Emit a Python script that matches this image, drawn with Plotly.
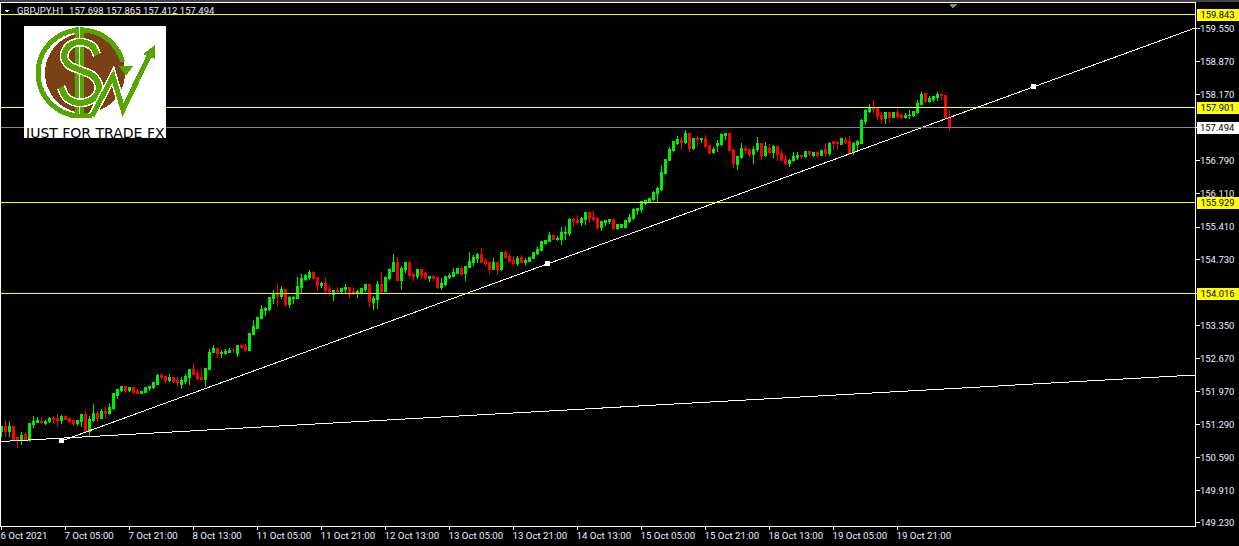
import math
import plotly.graph_objects as go

opens = [151.14,151.24,151.13,151.24,151.01,150.96,151.07,150.96,151.28,151.32,
151.35,151.30,151.34,151.42,151.42,151.38,151.45,151.42,151.36,151.30,
151.34,151.49,151.14,151.38,151.51,151.42,151.55,151.51,151.63,151.90,
151.99,152.07,151.99,152.05,151.97,151.93,151.95,152.03,152.05,152.13,
152.30,152.28,152.20,152.26,152.20,152.13,152.18,152.26,152.43,152.36,
152.26,152.22,152.43,152.78,152.87,152.76,152.76,152.80,152.84,152.76,
152.93,152.91,152.84,153.16,153.30,153.51,153.66,153.68,153.91,154.01,
153.95,154.10,153.80,153.91,153.91,154.14,154.31,154.35,154.47,154.35,
154.18,154.24,154.10,154.01,154.08,154.06,154.10,154.14,154.06,154.03,
154.03,154.10,154.20,153.83,153.89,154.22,154.06,154.33,154.49,154.68,
154.29,154.52,154.66,154.41,154.37,154.52,154.43,154.33,154.37,154.35,
154.14,154.22,154.35,154.37,154.45,154.54,154.43,154.56,154.68,154.75,
154.83,154.70,154.66,154.52,154.68,154.52,154.87,154.79,154.72,154.64,
154.77,154.68,154.70,154.75,154.85,154.93,155.06,155.10,155.23,155.14,
155.16,155.27,155.27,155.56,155.54,155.50,155.56,155.71,155.62,155.58,
155.41,155.50,155.52,155.56,155.39,155.41,155.41,155.52,155.58,155.75,
155.77,155.91,155.94,155.98,156.12,156.19,156.52,156.81,157.00,157.15,
157.21,157.17,157.36,157.06,157.25,157.23,157.25,157.11,156.96,157.11,
157.13,157.32,157.36,157.04,156.71,156.86,157.06,157.02,156.92,157.02,
157.15,156.90,157.06,156.96,157.09,156.94,156.83,156.73,156.79,156.86,
156.90,156.88,156.98,156.90,156.96,156.90,157.02,156.94,157.19,157.17,
157.13,157.23,157.19,156.96,157.13,157.15,157.61,157.82,157.90,157.88,
157.73,157.67,157.80,157.69,157.80,157.73,157.69,157.73,157.73,157.80,
157.98,158.19,158.03,158.07,158.11,158.17,158.15,157.698]

highs = [151.24,151.38,151.36,151.24,151.01,151.13,151.13,151.30,151.47,151.45,
151.44,151.38,151.45,151.47,151.51,151.49,151.49,151.42,151.40,151.38,
151.51,151.57,151.47,151.72,151.57,151.61,151.65,151.74,151.93,152.03,
152.09,152.07,152.05,152.07,152.03,151.99,152.05,152.09,152.18,152.34,
152.36,152.28,152.34,152.28,152.28,152.28,152.34,152.43,152.57,152.43,
152.45,152.45,152.87,152.95,152.87,152.84,152.87,152.89,152.89,152.95,
152.97,152.97,153.18,153.47,153.53,153.78,153.74,153.95,154.10,154.22,
154.18,154.10,153.97,153.97,154.37,154.43,154.43,154.52,154.49,154.37,
154.26,154.35,154.18,154.08,154.16,154.14,154.22,154.16,154.16,154.10,
154.14,154.20,154.20,153.97,154.29,154.47,154.37,154.54,154.85,154.79,
154.60,154.68,154.70,154.45,154.54,154.54,154.47,154.37,154.41,154.35,
154.35,154.39,154.45,154.56,154.54,154.58,154.60,154.89,154.83,154.87,
154.98,154.77,154.66,154.77,154.68,154.87,154.93,154.87,154.81,154.81,
154.83,154.77,154.79,154.89,155.00,155.10,155.14,155.31,155.23,155.23,
155.41,155.43,155.60,155.60,155.66,155.62,155.73,155.73,155.77,155.60,
155.54,155.56,155.58,155.56,155.48,155.48,155.56,155.69,155.81,155.81,
155.96,155.98,156.02,156.17,156.25,156.71,156.83,157.09,157.19,157.32,
157.29,157.44,157.38,157.27,157.32,157.27,157.34,157.13,157.09,157.23,
157.38,157.38,157.36,157.04,156.88,157.17,157.11,157.04,157.11,157.29,
157.15,157.19,157.15,157.13,157.11,157.02,156.92,156.83,156.98,156.98,
156.92,157.00,156.98,156.98,156.96,157.00,157.17,157.19,157.19,157.21,
157.27,157.29,157.31,157.19,157.23,157.67,157.88,157.98,158.07,157.90,
157.82,157.80,157.80,157.80,157.88,157.77,157.80,157.86,157.82,158.07,
158.23,158.19,158.15,158.15,158.23,158.21,158.17,157.865]

lows = [151.02,151.02,151.02,150.98,150.80,150.86,150.96,150.93,151.21,151.32,
151.30,151.28,151.32,151.32,151.24,151.30,151.38,151.32,151.26,151.26,
151.24,151.13,151.05,151.34,151.34,151.40,151.40,151.49,151.59,151.82,
151.97,151.95,151.97,151.93,151.93,151.93,151.94,151.99,152.03,152.13,
152.22,152.16,152.18,152.16,152.07,152.03,152.13,152.11,152.34,152.22,
152.20,152.07,152.43,152.78,152.68,152.68,152.74,152.78,152.78,152.70,
152.87,152.82,152.84,153.16,153.30,153.49,153.55,153.66,153.80,153.76,
153.91,153.74,153.72,153.80,153.91,154.03,154.29,154.31,154.31,154.08,
154.14,154.03,153.97,153.87,154.01,154.03,154.03,153.93,153.99,153.93,
154.01,154.06,153.74,153.68,153.70,154.03,154.06,154.31,154.47,154.29,
154.10,154.45,154.37,154.29,154.33,154.33,154.31,154.26,154.29,154.12,
154.10,154.18,154.33,154.37,154.43,154.39,154.29,154.56,154.60,154.66,
154.66,154.60,154.43,154.52,154.41,154.49,154.75,154.68,154.62,154.60,
154.66,154.60,154.68,154.75,154.83,154.93,155.04,155.10,155.14,155.12,
155.04,155.14,155.23,155.41,155.46,155.43,155.46,155.50,155.54,155.35,
155.33,155.43,155.48,155.35,155.35,155.39,155.39,155.50,155.56,155.66,
155.71,155.87,155.94,155.96,155.94,156.17,156.52,156.79,156.98,157.13,
157.02,157.15,156.98,157.02,157.09,157.17,157.06,156.94,156.94,156.98,
157.11,157.23,157.00,156.65,156.60,156.83,156.94,156.88,156.73,156.98,
156.81,156.88,156.94,156.86,156.79,156.79,156.71,156.67,156.77,156.81,
156.83,156.86,156.90,156.88,156.86,156.90,156.88,156.90,157.02,157.02,
157.13,157.15,156.94,156.92,157.02,157.15,157.54,157.80,157.77,157.65,
157.57,157.57,157.61,157.69,157.67,157.67,157.67,157.67,157.71,157.77,
157.96,158.00,158.00,158.03,158.05,158.07,157.69,157.412]

closes = [151.24,151.13,151.24,150.98,150.96,151.05,150.96,151.30,151.34,151.36,
151.33,151.35,151.42,151.40,151.38,151.45,151.40,151.34,151.30,151.36,
151.49,151.14,151.40,151.51,151.42,151.55,151.51,151.65,151.93,152.01,
152.07,151.99,152.05,151.95,151.93,151.97,152.05,152.07,152.16,152.30,
152.26,152.20,152.26,152.18,152.16,152.20,152.28,152.43,152.34,152.24,
152.22,152.45,152.80,152.87,152.76,152.78,152.82,152.84,152.83,152.93,
152.89,152.84,153.18,153.33,153.53,153.68,153.70,153.93,154.01,153.95,
154.10,153.80,153.93,153.93,154.16,154.33,154.39,154.47,154.33,154.18,
154.24,154.08,154.06,154.08,154.06,154.12,154.14,154.01,154.03,154.06,
154.12,154.20,153.85,153.91,154.22,154.06,154.35,154.52,154.68,154.29,
154.54,154.66,154.39,154.37,154.52,154.39,154.35,154.37,154.33,154.14,
154.24,154.37,154.39,154.47,154.54,154.41,154.58,154.70,154.77,154.83,
154.68,154.64,154.52,154.68,154.52,154.87,154.77,154.70,154.64,154.75,
154.68,154.72,154.77,154.87,154.95,155.10,155.12,155.23,155.14,155.18,
155.29,155.29,155.56,155.52,155.50,155.58,155.71,155.58,155.56,155.41,
155.52,155.54,155.56,155.39,155.46,155.46,155.54,155.60,155.77,155.79,
155.94,155.96,156.00,156.14,156.21,156.54,156.83,157.02,157.19,157.23,
157.17,157.36,157.06,157.25,157.23,157.25,157.09,156.94,157.04,157.15,
157.34,157.36,157.00,156.73,156.88,157.06,157.00,156.92,157.04,157.15,
156.90,157.09,156.96,157.09,156.92,156.81,156.73,156.81,156.88,156.90,
156.88,156.98,156.94,156.96,156.90,157.00,156.94,157.15,157.15,157.15,
157.25,157.17,156.94,157.15,157.19,157.63,157.84,157.90,157.86,157.71,
157.67,157.80,157.69,157.80,157.71,157.69,157.75,157.75,157.82,158.00,
158.17,158.03,158.09,158.13,158.17,158.15,157.69,157.494]

bars = list(range(len(opens)))

x_tick_bars = [0,16,32,48,64,80,96,112,128,144,160,176,192,208,224]
x_tick_labels = ["6 Oct 2021","7 Oct 05:00","7 Oct 21:00","8 Oct 13:00","11 Oct 05:00",
                 "11 Oct 21:00","12 Oct 13:00","13 Oct 05:00","13 Oct 21:00","14 Oct 13:00",
                 "15 Oct 05:00","15 Oct 21:00","18 Oct 13:00","19 Oct 05:00","19 Oct 21:00"]
y_ticks = [159.55,158.87,158.17,157.49,156.79,156.11,155.41,154.73,154.03,153.35,
           152.67,151.97,151.29,150.59,149.91,149.23]

level_prices = [159.843,157.901,155.929,154.016]
last_price = 157.494

rising_bars = [15,136.5,258,298.4]
rising_prices = [150.943,154.641,158.338,159.567]
anchor_bars = [15,136.5,258]
anchor_prices = [150.943,154.641,158.338]
flat_bars = [-0.375,298.4]
flat_prices = [150.93,152.32]

BG="#000000"; UP="#00f000"; DOWN="#ff0000"; YEL="#ffff00"; GRAY="#778899"
TXT="#e6efff"
FONT="Roboto, Noto Sans, sans-serif"

W,H=1239,546
L,R,T,B=1,44,3,20
PW=W-L-R; PH=H-T-B
def px(x): return (x-L)/PW
def py(y): return (H-B-y)/PH

fig=go.Figure()
fig.add_trace(go.Candlestick(x=bars,open=opens,high=highs,low=lows,close=closes,
    increasing=dict(line=dict(color=UP,width=1),fillcolor=UP),
    decreasing=dict(line=dict(color=DOWN,width=1),fillcolor=DOWN),
    whiskerwidth=0,showlegend=False,name="GBPJPY,H1"))
fig.add_trace(go.Scatter(x=flat_bars,y=flat_prices,mode="lines",line=dict(color="#ffffff",width=1),showlegend=False))
fig.add_trace(go.Scatter(x=rising_bars,y=rising_prices,mode="lines",line=dict(color="#ffffff",width=1),showlegend=False))
fig.add_trace(go.Scatter(x=anchor_bars,y=anchor_prices,mode="markers",
    marker=dict(symbol="square",size=5,color="#ffffff",line=dict(width=0)),showlegend=False))

shapes=[]
for p in level_prices:
    shapes.append(dict(type="line",xref="paper",yref="y",x0=0,x1=1,y0=p,y1=p,line=dict(color=YEL,width=1),layer="above"))
shapes.append(dict(type="line",xref="paper",yref="y",x0=0,x1=1,y0=last_price,y1=last_price,line=dict(color=GRAY,width=1),layer="above"))

def pth(points,close=False):
    s="M"+" L".join(f"{px(a):.5f},{py(b):.5f}" for a,b in points)
    return s+(" Z" if close else "")
def shape_path(points,fill=None,line=None,width=0,close=False):
    d=dict(type="path",xref="paper",yref="paper",path=pth(points,close),layer="above")
    d["fillcolor"]=fill if fill else "rgba(0,0,0,0)"
    d["line"]=dict(color=line if line else "rgba(0,0,0,0)",width=width)
    return d
def arc(cx,cy,rx,ry,a0,a1,n=60):
    return [(cx+rx*math.cos(math.radians(a0+(a1-a0)*k/n)),cy-ry*math.sin(math.radians(a0+(a1-a0)*k/n))) for k in range(n+1)]
def smooth(pts,n=8):
    out=[]
    P=[pts[0]]+pts+[pts[-1]]
    for i in range(1,len(P)-2):
        for k in range(n):
            t=k/n
            out.append(tuple(0.5*(2*P[i][c]+(P[i+1][c]-P[i-1][c])*t+(2*P[i-1][c]-5*P[i][c]+4*P[i+1][c]-P[i+2][c])*t*t+(3*P[i][c]-P[i-1][c]-3*P[i+1][c]+P[i+2][c])*t*t*t) for c in (0,1)))
    out.append(pts[-1])
    return out

LG="#55a600"; BR="#7b4016"; WH="#ffffff"
# window decoration
shapes.append(shape_path([(0,0),(1239,0),(1239,2.5),(0,2.5)],fill="#444444",close=True))
shapes.append(shape_path([(4,10),(10,10),(7,13)],fill="#ffffff",close=True))
shapes.append(shape_path([(949,4),(958,4),(953.5,8.5)],fill=GRAY,close=True))
# logo
shapes.append(shape_path([(24,26),(166,26),(166,138),(24,138)],fill=WH,close=True))
shapes.append(shape_path(arc(85,73,40,40,0,360),fill=BR,close=True))
shapes.append(shape_path(arc(81,73,43,43,15,280,80),line=LG,width=5))
shapes.append(shape_path([(119,66),(133,66),(126,76)],fill=LG,close=True))
# dollar bar
shapes.append(shape_path([(75,27),(84,27),(84,118),(75,118)],fill=LG,close=True))
shapes.append(shape_path([(79,27),(80.5,27),(80.5,118),(79,118)],fill=WH,close=True))
s_curve=smooth([(97,55),(92,46),(80,42),(69,46),(64,56),(69,65),(80,70),(93,76),(99,87),(94,98),(80,103),(67,98),(61,87)])
shapes.append(shape_path(s_curve,line=WH,width=9))
shapes.append(shape_path(s_curve,line=LG,width=6))
w_line=[(92,116),(113,76),(123,110),(149,56)]
shapes.append(shape_path(w_line,line=WH,width=8))
shapes.append(shape_path([(70,116),(92,116)],line=LG,width=4))
shapes.append(shape_path(w_line,line=LG,width=5))
shapes.append(shape_path([(155,45),(143,54),(155,59)],fill=LG,close=True))

ann=[]
ann.append(dict(text="GBPJPY,H1  157.698 157.865 157.412 157.494",xref="paper",yref="paper",
    x=px(15),y=py(10.5),xanchor="left",yanchor="middle",showarrow=False,font=dict(family=FONT,size=9.5,color=TXT)))
ann.append(dict(text="JUST FOR TRADE FX",xref="paper",yref="paper",x=px(95),y=py(132.5),
    xanchor="center",yanchor="middle",showarrow=False,font=dict(family="DejaVu Sans, sans-serif",size=14,color="#000000")))
for p in level_prices:
    ann.append(dict(text=f"{p:.3f}",xref="paper",yref="y",x=px(1196),y=p,xanchor="left",yanchor="middle",
        showarrow=False,width=41,height=11,bgcolor=YEL,borderpad=0,align="center",
        font=dict(family=FONT,size=9.4,color="#000000")))
ann.append(dict(text=f"{last_price:.3f}",xref="paper",yref="y",x=px(1196),y=last_price,xanchor="left",yanchor="middle",
    showarrow=False,width=41,height=11,bgcolor="#ffffff",borderpad=0,align="center",
    font=dict(family=FONT,size=9.4,color="#000000")))

axis_common=dict(showgrid=False,zeroline=False,showline=True,linecolor="#ffffff",linewidth=1,mirror=True,
    ticks="outside",tickcolor="#ffffff",tickwidth=1)
fig.update_layout(width=W,height=H,margin=dict(l=L,r=R,t=T,b=B,pad=0,autoexpand=False),
    paper_bgcolor=BG,plot_bgcolor=BG,showlegend=False,boxgap=0.6,
    shapes=shapes,annotations=ann,
    xaxis=dict(range=[-0.125,298.375],tickmode="array",tickvals=x_tick_bars,ticktext=x_tick_labels,
        rangeslider=dict(visible=False),ticklen=3,tickfont=dict(family=FONT,size=9.7,color=TXT),
        ticklabelposition="outside right",ticklabelshift=-2,tickangle=0,**axis_common),
    yaxis=dict(side="right",range=[149.1665,160.0895],tickmode="array",tickvals=y_ticks,
        ticktext=[f"{v:.3f}" for v in y_ticks],ticklen=4,ticklabelstandoff=-2,
        tickfont=dict(family=FONT,size=9.5,color=TXT),**axis_common))
fig.write_html("out.html",config=dict(displayModeBar=False),
    post_script="document.body.style.margin='0';document.documentElement.style.background='#000';"
                "document.querySelectorAll('.main-svg').forEach(function(s){s.style.shapeRendering='crispEdges';});")
